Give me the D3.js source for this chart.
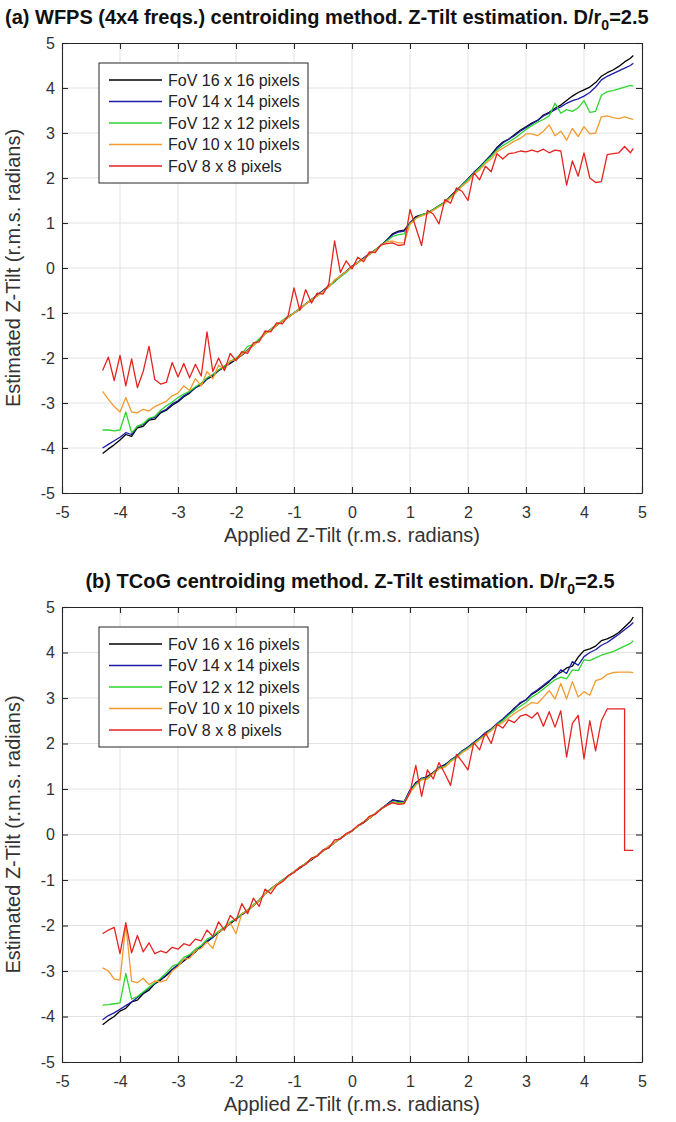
<!DOCTYPE html>
<html>
<head>
<meta charset="utf-8">
<title>Z-Tilt estimation</title>
<style>
  body { margin: 0; background: #fff; }
  svg { display: block; font-family: "Liberation Sans", Arial, sans-serif; }
</style>
</head>
<body>
<svg id="fig" width="676" height="1122"></svg>
<script src="https://cdn.jsdelivr.net/npm/d3@7/dist/d3.min.js"></script>
<script>

// applied tilt (shared by all curves); 4.7 appears twice so the FoV 8 drop in (b) is vertical
var applied = [
  -4.3,-4.2,-4.1,-4,-3.9,-3.8,-3.7,-3.6,-3.5,-3.4,
  -3.3,-3.2,-3.1,-3,-2.9,-2.8,-2.7,-2.6,-2.5,-2.4,
  -2.3,-2.2,-2.1,-2,-1.9,-1.8,-1.7,-1.6,-1.5,-1.4,
  -1.3,-1.2,-1.1,-1,-0.9,-0.8,-0.7,-0.6,-0.5,-0.4,
  -0.3,-0.2,-0.1,0,0.1,0.2,0.3,0.4,0.5,0.6,
  0.7,0.8,0.9,1,1.1,1.2,1.3,1.4,1.5,1.6,
  1.7,1.8,1.9,2,2.1,2.2,2.3,2.4,2.5,2.6,
  2.7,2.8,2.9,3,3.1,3.2,3.3,3.4,3.5,3.6,
  3.7,3.8,3.9,4,4.1,4.2,4.3,4.4,4.5,4.6,
  4.7,4.7,4.8,4.85
];

var fovLabels = ["FoV 16 x 16 pixels", "FoV 14 x 14 pixels", "FoV 12 x 12 pixels",
                 "FoV 10 x 10 pixels", "FoV 8 x 8 pixels"];
var fovColors = ["#000000", "#1c1ca8", "#2fd62f", "#f29a2e", "#e5231f"];
var ticks = [-5,-4,-3,-2,-1,0,1,2,3,4,5];

// (a) WFPS
var a16 = [
  -4.12,-4.02,-3.93,-3.82,-3.70,-3.74,-3.55,-3.52,-3.38,-3.36,
  -3.22,-3.16,-3.05,-2.97,-2.86,-2.78,-2.66,-2.60,-2.47,-2.40,
  -2.28,-2.20,-2.12,-2.03,-1.94,-1.84,-1.70,-1.60,-1.45,-1.38,
  -1.28,-1.18,-1.10,-1.00,-0.92,-0.80,-0.72,-0.60,-0.51,-0.40,
  -0.30,-0.18,-0.08,0.04,0.12,0.22,0.30,0.40,0.50,0.62,
  0.76,0.82,0.84,1.00,1.14,1.18,1.22,1.30,1.38,1.46,
  1.60,1.72,1.85,1.98,2.12,2.24,2.38,2.52,2.68,2.80,
  2.86,2.96,3.06,3.14,3.22,3.28,3.40,3.46,3.55,3.62,
  3.72,3.82,3.90,3.96,4.02,4.12,4.26,4.34,4.40,4.48,
  4.58,4.58,4.66,4.72
];
var a14 = [
  -4.00,-3.92,-3.84,-3.76,-3.66,-3.70,-3.52,-3.48,-3.36,-3.32,
  -3.20,-3.14,-3.02,-2.95,-2.84,-2.76,-2.66,-2.58,-2.46,-2.38,
  -2.28,-2.18,-2.10,-2.02,-1.92,-1.82,-1.72,-1.58,-1.46,-1.36,
  -1.26,-1.18,-1.08,-1.00,-0.90,-0.80,-0.70,-0.60,-0.50,-0.40,
  -0.30,-0.18,-0.08,0.04,0.12,0.22,0.32,0.40,0.50,0.62,
  0.74,0.80,0.82,1.00,1.12,1.18,1.22,1.30,1.38,1.46,
  1.58,1.72,1.84,1.98,2.12,2.24,2.38,2.50,2.66,2.78,
  2.86,2.94,3.04,3.12,3.20,3.28,3.38,3.44,3.52,3.58,
  3.66,3.72,3.76,3.82,3.90,4.02,4.18,4.26,4.32,4.38,
  4.44,4.44,4.50,4.55
];
var a12 = [
  -3.60,-3.60,-3.62,-3.60,-3.20,-3.66,-3.52,-3.46,-3.34,-3.30,
  -3.16,-3.06,-2.98,-2.88,-2.80,-2.74,-2.64,-2.56,-2.44,-2.36,
  -2.26,-2.18,-2.08,-2.00,-1.90,-1.74,-1.70,-1.58,-1.46,-1.36,
  -1.26,-1.16,-1.08,-1.00,-0.90,-0.80,-0.70,-0.62,-0.52,-0.42,
  -0.30,-0.20,-0.10,0.02,0.12,0.20,0.30,0.40,0.50,0.60,
  0.70,0.74,0.76,0.98,1.10,1.18,1.22,1.30,1.38,1.46,
  1.58,1.70,1.84,1.96,2.10,2.22,2.36,2.48,2.62,2.72,
  2.80,2.88,2.98,3.08,3.16,3.24,3.30,3.38,3.66,3.44,
  3.52,3.48,3.56,3.72,3.46,3.48,3.84,3.92,3.94,3.98,
  4.02,4.02,4.06,4.04
];
var a10 = [
  -2.74,-2.92,-3.08,-3.20,-2.88,-3.20,-3.22,-3.14,-3.18,-3.08,
  -3.02,-2.96,-2.84,-2.78,-2.62,-2.72,-2.46,-2.62,-2.30,-2.46,
  -2.16,-2.26,-2.06,-2.04,-1.92,-1.84,-1.72,-1.62,-1.46,-1.38,
  -1.28,-1.18,-1.10,-1.00,-0.92,-0.80,-0.72,-0.62,-0.52,-0.42,
  -0.26,-0.18,-0.08,0.02,0.12,0.20,0.30,0.38,0.50,0.58,
  0.60,0.56,0.56,0.98,1.10,1.16,1.20,1.28,1.36,1.44,
  1.56,1.68,1.82,1.92,2.08,2.18,2.32,2.42,2.58,2.66,
  2.74,2.82,2.88,2.98,2.98,2.94,3.04,3.18,2.94,3.04,
  2.84,3.10,2.92,3.14,2.98,3.00,3.36,3.38,3.34,3.32,
  3.36,3.36,3.32,3.30
];
var a8 = [
  -2.28,-1.98,-2.50,-1.94,-2.62,-2.02,-2.66,-2.30,-1.74,-2.48,
  -2.58,-2.54,-2.10,-2.42,-2.12,-2.44,-2.14,-2.40,-1.42,-2.30,
  -2.00,-2.28,-1.90,-2.06,-1.86,-1.90,-1.66,-1.64,-1.40,-1.42,
  -1.22,-1.24,-1.06,-0.44,-0.94,-0.48,-0.78,-0.56,-0.58,-0.36,
  0.60,-0.10,0.16,-0.02,0.24,0.14,0.36,0.34,0.52,0.54,
  0.56,0.50,0.52,1.30,0.90,0.50,1.28,1.20,0.98,1.52,
  1.44,1.78,1.70,1.50,2.12,1.96,2.26,2.14,2.54,2.42,
  2.54,2.56,2.60,2.58,2.62,2.58,2.64,2.56,2.62,2.60,
  1.84,2.38,2.04,2.56,2.00,1.90,1.92,2.52,2.54,2.56,
  2.70,2.70,2.56,2.66
];

// (b) TCoG
var b16 = [
  -4.18,-4.08,-4.00,-3.88,-3.82,-3.68,-3.64,-3.50,-3.42,-3.28,
  -3.20,-3.10,-2.98,-2.88,-2.78,-2.68,-2.58,-2.46,-2.36,-2.26,
  -2.16,-2.06,-1.96,-1.86,-1.76,-1.68,-1.56,-1.46,-1.30,-1.20,
  -1.10,-1.02,-0.92,-0.82,-0.74,-0.64,-0.56,-0.46,-0.36,-0.28,
  -0.18,-0.08,0.00,0.08,0.18,0.26,0.36,0.46,0.56,0.66,
  0.76,0.74,0.72,0.96,1.14,1.22,1.28,1.36,1.46,1.54,
  1.62,1.72,1.82,1.92,2.02,2.12,2.22,2.32,2.42,2.52,
  2.64,2.78,2.88,2.96,3.08,3.16,3.26,3.36,3.50,3.56,
  3.66,3.70,3.90,4.04,4.08,4.14,4.26,4.30,4.36,4.44,
  4.56,4.56,4.68,4.78
];
var b14 = [
  -4.07,-3.98,-3.92,-3.84,-3.76,-3.68,-3.58,-3.48,-3.38,-3.28,
  -3.18,-3.08,-2.96,-2.86,-2.76,-2.66,-2.56,-2.46,-2.34,-2.26,
  -2.14,-2.06,-1.94,-1.86,-1.76,-1.66,-1.56,-1.44,-1.30,-1.20,
  -1.10,-1.00,-0.92,-0.82,-0.72,-0.64,-0.54,-0.46,-0.36,-0.26,
  -0.18,-0.08,0.00,0.08,0.18,0.28,0.36,0.46,0.56,0.66,
  0.76,0.72,0.72,0.98,1.12,1.24,1.26,1.36,1.48,1.52,
  1.64,1.72,1.84,1.92,2.02,2.12,2.24,2.32,2.44,2.54,
  2.66,2.76,2.90,2.96,3.10,3.18,3.28,3.38,3.46,3.62,
  3.54,3.80,3.72,3.91,4.00,4.06,4.16,4.22,4.31,4.40,
  4.50,4.50,4.60,4.66
];
var b12 = [
  -3.75,-3.74,-3.72,-3.70,-3.05,-3.62,-3.56,-3.46,-3.36,-3.26,
  -3.16,-3.04,-2.90,-2.84,-2.70,-2.64,-2.52,-2.44,-2.30,-2.24,
  -2.12,-2.04,-1.92,-1.86,-1.74,-1.66,-1.54,-1.44,-1.30,-1.20,
  -1.10,-1.00,-0.92,-0.82,-0.72,-0.64,-0.54,-0.46,-0.36,-0.26,
  -0.18,-0.08,0.00,0.08,0.18,0.28,0.36,0.46,0.56,0.64,
  0.72,0.70,0.70,0.94,1.10,1.22,1.24,1.34,1.46,1.50,
  1.62,1.70,1.82,1.90,2.00,2.10,2.20,2.30,2.42,2.50,
  2.62,2.72,2.82,2.90,3.02,3.10,3.20,3.30,3.40,3.46,
  3.42,3.62,3.60,3.84,3.82,3.88,3.94,3.98,4.02,4.08,
  4.14,4.14,4.20,4.26
];
var b10 = [
  -2.93,-3.00,-3.18,-3.20,-1.98,-3.22,-3.26,-3.16,-3.30,-3.22,
  -3.24,-3.20,-3.00,-2.90,-2.74,-2.72,-2.56,-2.50,-2.36,-2.50,
  -2.14,-2.08,-1.94,-2.18,-1.74,-1.68,-1.56,-1.46,-1.30,-1.22,
  -1.10,-1.02,-0.92,-0.82,-0.72,-0.64,-0.54,-0.46,-0.36,-0.26,
  -0.18,-0.08,0.00,0.08,0.18,0.28,0.36,0.46,0.56,0.64,
  0.70,0.68,0.68,0.92,1.08,1.20,1.22,1.34,1.44,1.48,
  1.60,1.68,1.80,1.88,1.98,2.08,2.18,2.28,2.40,2.46,
  2.56,2.66,2.74,2.82,2.90,2.88,3.02,3.16,2.98,3.32,
  2.98,3.36,3.02,3.14,3.06,3.38,3.42,3.52,3.56,3.57,
  3.57,3.57,3.57,3.56
];
var b8 = [
  -2.18,-2.10,-2.04,-2.62,-1.94,-2.60,-2.22,-2.58,-2.38,-2.62,
  -2.56,-2.60,-2.48,-2.52,-2.40,-2.44,-2.30,-2.34,-2.10,-2.24,
  -1.92,-2.10,-1.78,-1.90,-1.52,-1.74,-1.40,-1.58,-1.20,-1.30,
  -1.12,-1.04,-0.90,-0.84,-0.72,-0.66,-0.52,-0.48,-0.34,-0.30,
  -0.12,-0.10,0.02,0.08,0.20,0.26,0.40,0.44,0.56,0.64,
  0.70,0.66,0.68,0.92,1.52,0.84,1.42,1.22,1.58,1.34,
  1.08,1.76,1.60,1.42,2.02,1.86,2.24,2.00,2.42,2.34,
  2.52,2.46,2.60,2.64,2.56,2.68,2.38,2.70,2.36,2.72,
  1.70,2.44,2.62,1.66,2.50,1.84,2.50,2.76,2.76,2.76,
  2.76,-0.35,-0.35,-0.35
];

var panels = [
  { top: 43, bottom: 493, lead: "(a) WFPS (4x4 freqs.) centroiding method. Z-Tilt estimation. D/r",
    titleX: 5, titleY: 24, anchor: "start", curves: [a16, a14, a12, a10, a8] },
  { top: 607, bottom: 1062, lead: "(b) TCoG centroiding method. Z-Tilt estimation. D/r",
    titleX: 350, titleY: 588, anchor: "middle", curves: [b16, b14, b12, b10, b8] }
];

var left = 62, right = 642;
var ink = "#262626";
var svg = d3.select("#fig");

panels.forEach(function(p, k){
  var x = d3.scaleLinear().domain([-5, 5]).range([left, right]);
  var y = d3.scaleLinear().domain([-5, 5]).range([p.bottom, p.top]);
  var g = svg.append("g");

  // grid
  g.append("g").selectAll("line").data(ticks.slice(1, -1)).join("line")
    .attr("x1", d => x(d)).attr("x2", d => x(d))
    .attr("y1", p.top).attr("y2", p.bottom)
    .attr("stroke", "#e2e2e2").attr("stroke-width", 1);
  g.append("g").selectAll("line").data(ticks.slice(1, -1)).join("line")
    .attr("y1", d => y(d)).attr("y2", d => y(d))
    .attr("x1", left).attr("x2", right)
    .attr("stroke", "#e2e2e2").attr("stroke-width", 1);

  // curves
  svg.append("clipPath").attr("id", "clip" + k).append("rect")
    .attr("x", left).attr("y", p.top).attr("width", right - left).attr("height", p.bottom - p.top);
  var line = d3.line().x((d, i) => x(applied[i])).y(d => y(d));
  g.append("g").attr("clip-path", "url(#clip" + k + ")")
    .selectAll("path").data(p.curves).join("path")
    .attr("d", line)
    .attr("fill", "none")
    .attr("stroke", (d, i) => fovColors[i])
    .attr("stroke-width", 1.3)
    .attr("stroke-linejoin", "round");

  // axes (ticks pointing inward on all four sides)
  var fmt = d => String(d);
  g.append("g").attr("transform", "translate(0," + p.bottom + ")")
    .call(d3.axisBottom(x).tickValues(ticks).tickFormat(fmt).tickSizeInner(-6).tickSizeOuter(0).tickPadding(14));
  g.append("g").attr("transform", "translate(" + left + ",0)")
    .call(d3.axisLeft(y).tickValues(ticks).tickFormat(fmt).tickSizeInner(-6).tickSizeOuter(0).tickPadding(7));
  g.append("g").attr("transform", "translate(0," + p.top + ")")
    .call(d3.axisTop(x).tickValues(ticks).tickFormat("").tickSizeInner(-6).tickSizeOuter(0));
  g.append("g").attr("transform", "translate(" + right + ",0)")
    .call(d3.axisRight(y).tickValues(ticks).tickFormat("").tickSizeInner(-6).tickSizeOuter(0));
  g.selectAll(".domain, .tick line").attr("stroke", ink).attr("stroke-width", 1.1);
  g.selectAll(".tick text").attr("fill", "#333").attr("font-size", 16)
    .attr("font-family", "Liberation Sans, Arial, sans-serif");

  // axis labels
  g.append("text")
    .attr("x", (left + right) / 2).attr("y", p.bottom + 49)
    .attr("text-anchor", "middle").attr("font-size", 20).attr("fill", "#333")
    .text("Applied Z-Tilt (r.m.s. radians)");
  g.append("text")
    .attr("transform", "translate(20," + (p.top + p.bottom) / 2 + ") rotate(-90)")
    .attr("text-anchor", "middle").attr("font-size", 20).attr("fill", "#333")
    .text("Estimated Z-Tilt (r.m.s. radians)");

  // title with subscript
  var t = g.append("text")
    .attr("x", p.titleX).attr("y", p.titleY)
    .attr("text-anchor", p.anchor).attr("font-size", 20).attr("font-weight", "bold").attr("fill", "#111");
  t.append("tspan").text(p.lead);
  t.append("tspan").attr("dy", 6).attr("font-size", 14).text("0");
  t.append("tspan").attr("dy", -6).text("=2.5");

  // legend
  var lg = g.append("g").attr("transform", "translate(99," + (p.top + 20) + ")");
  lg.append("rect").attr("width", 209).attr("height", 120)
    .attr("fill", "#fff").attr("stroke", ink).attr("stroke-width", 1);
  var row = lg.selectAll("g").data(fovLabels).join("g")
    .attr("transform", (d, i) => "translate(0," + (17 + i * 21.5) + ")");
  row.append("line").attr("x1", 10).attr("x2", 63)
    .attr("stroke", (d, i) => fovColors[i]).attr("stroke-width", 1.3);
  row.append("text").attr("x", 69).attr("dy", "0.35em")
    .attr("font-size", 16).attr("fill", "#222").text(d => d);
});
</script>
</body>
</html>
